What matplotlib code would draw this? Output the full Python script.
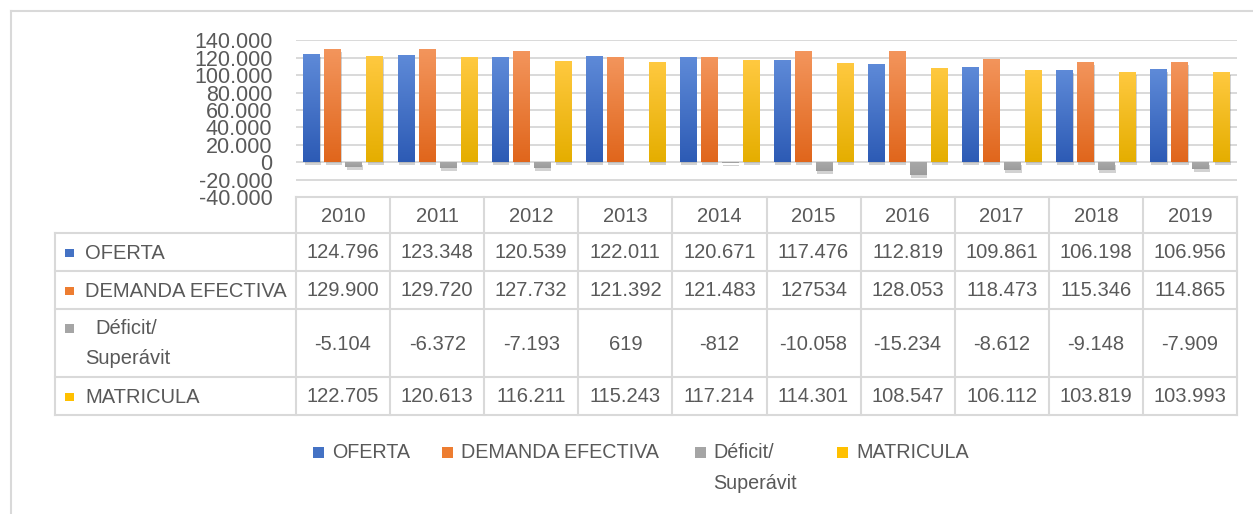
import numpy as np
import matplotlib
matplotlib.use("Agg")
from matplotlib import pyplot as plt

plt.rcParams['font.family'] = ['Liberation Sans', 'DejaVu Sans']

# data, as printed in the table under the chart
years = ['2010', '2011', '2012', '2013', '2014', '2015', '2016', '2017', '2018', '2019']
series = ['OFERTA', 'DEMANDA EFECTIVA', 'Déficit/\nSuperávit', 'MATRICULA']
oferta_txt = ['124.796', '123.348', '120.539', '122.011', '120.671', '117.476', '112.819', '109.861', '106.198', '106.956']
demanda_txt = ['129.900', '129.720', '127.732', '121.392', '121.483', '127534', '128.053', '118.473', '115.346', '114.865']
deficit_txt = ['-5.104', '-6.372', '-7.193', '619', '-812', '-10.058', '-15.234', '-8.612', '-9.148', '-7.909']
matricula_txt = ['122.705', '120.613', '116.211', '115.243', '117.214', '114.301', '108.547', '106.112', '103.819', '103.993']
yticks = [-40000, -20000, 0, 20000, 40000, 60000, 80000, 100000, 120000, 140000]
ytick_labels = ['-40.000', '-20.000', '0', '20.000', '40.000', '60.000', '80.000', '100.000', '120.000', '140.000']

def num(s):
    return float(s.replace('.', ''))

table_txt = [oferta_txt, demanda_txt, deficit_txt, matricula_txt]
values = [[num(s) for s in row] for row in table_txt]

colors = ['#4472C4', '#ED7D31', '#A5A5A5', '#FFC000']
grad_top = ['#5E8AD8', '#F3955C', '#A9A9A9', '#FFC940']
grad_bot = ['#2D5BB5', '#E0661C', '#9C9C9C', '#E5AE00']
txt_col = '#595959'
line_col = '#D9D9D9'

W, H = 1253, 514
fig = plt.figure(figsize=(W / 100, H / 100), dpi=100)

# full-figure overlay in pixel coordinates for the table / legend / frame
ov = fig.add_axes([0, 0, 1, 1], zorder=0)
ov.set_xlim(0, W)
ov.set_ylim(H, 0)
ov.axis('off')

# frame
ov.plot([11, 11], [11, H], color=line_col, lw=1.5)
ov.plot([11, W], [11, 11], color=line_col, lw=1.5)

# ---- bar chart ----
x0, x1 = 296, 1237
ytop, ybot = 40.5, 197
ax = fig.add_axes([x0 / W, 1 - ybot / H, (x1 - x0) / W, (ybot - ytop) / H], zorder=1)
ax.patch.set_alpha(0)
xs = np.arange(len(years))
offsets = [-0.335, -0.112, 0.112, 0.335]
bw = 0.172
px_y = 180000 / (ybot - ytop)

# shadows
for k in range(4):
    ax.bar(xs + offsets[k] + 0.012, values[k], bw, bottom=-3.0 * px_y,
           color='#7F7F7F', alpha=0.35, zorder=2, lw=0)

grad = np.linspace(0, 1, 64).reshape(-1, 1)
for k in range(4):
    bars = ax.bar(xs + offsets[k], values[k], bw, color=colors[k], zorder=3, lw=0)
    cmap = matplotlib.colors.LinearSegmentedColormap.from_list('g%d' % k, [grad_bot[k], grad_top[k]])
    for b in bars:
        bx, by = b.get_x(), b.get_y()
        bh = b.get_height()
        lo, hi = min(by, by + bh), max(by, by + bh)
        im = ax.imshow(grad, cmap=cmap, extent=[bx, bx + b.get_width(), lo, hi],
                       origin='lower', aspect='auto', zorder=4, interpolation='bilinear')
        im.set_clip_path(b)

ax.set_xlim(-0.5, len(years) - 0.5)
ax.set_ylim(-40000, 140000)
ax.set_yticks(yticks)
ax.set_yticklabels(ytick_labels, fontsize=15.5, color=txt_col)
ax.tick_params(axis='y', length=0, pad=17)
ax.set_xticks([])
ax.grid(axis='y', color=line_col, lw=1.4, zorder=0)
for s in ax.spines.values():
    s.set_visible(False)

# ---- data table ----
col_w = (x1 - x0) / len(years)
lab_x0 = 55
row_edges = [197, 233, 271, 309, 377, 415]

ov.plot([x0, x1], [197, 197], color=line_col, lw=1.5)
for y in row_edges[1:]:
    ov.plot([lab_x0, x1], [y, y], color=line_col, lw=1.5)
ov.plot([lab_x0, lab_x0], [233, 415], color=line_col, lw=1.5)
for i in range(len(years) + 1):
    xx = x0 + i * col_w
    ov.plot([xx, xx], [197, 415], color=line_col, lw=1.5)

for i, yr in enumerate(years):
    ov.text(x0 + (i + 0.5) * col_w, 216, yr, ha='center', va='center', fontsize=14.5, color=txt_col)

for r in range(4):
    yc = (row_edges[r + 1] + row_edges[r + 2]) / 2
    for i in range(len(years)):
        ov.text(x0 + (i + 0.5) * col_w, yc + 1, table_txt[r][i], ha='center', va='center',
                fontsize=14.5, color=txt_col)
    if r == 2:
        ov.add_patch(plt.Rectangle((65, 324), 8.5, 8.5, color=colors[r], lw=0))
        ov.text(95, 329, 'Déficit/', ha='left', va='center', fontsize=14.5, color=txt_col)
        ov.text(85, 358, 'Superávit', ha='left', va='center', fontsize=14.5, color=txt_col)
    else:
        ov.add_patch(plt.Rectangle((65, yc - 3.5), 8.5, 8.5, color=colors[r], lw=0))
        ov.text(85, yc + 1.5, series[r], ha='left', va='center', fontsize=14.5, color=txt_col)

# ---- legend ----
leg_sq = [313, 442, 695, 837]
for k in range(4):
    ov.add_patch(plt.Rectangle((leg_sq[k], 446.5), 11, 11, color=colors[k], lw=0))
    if k != 2:
        ov.text(leg_sq[k] + 19, 453, series[k], ha='left', va='center', fontsize=14.2, color=txt_col)
ov.text(713, 453, 'Déficit/', ha='left', va='center', fontsize=14.2, color=txt_col)
ov.text(713, 483.5, 'Superávit', ha='left', va='center', fontsize=14.2, color=txt_col)

fig.savefig('out.png', dpi=100)
